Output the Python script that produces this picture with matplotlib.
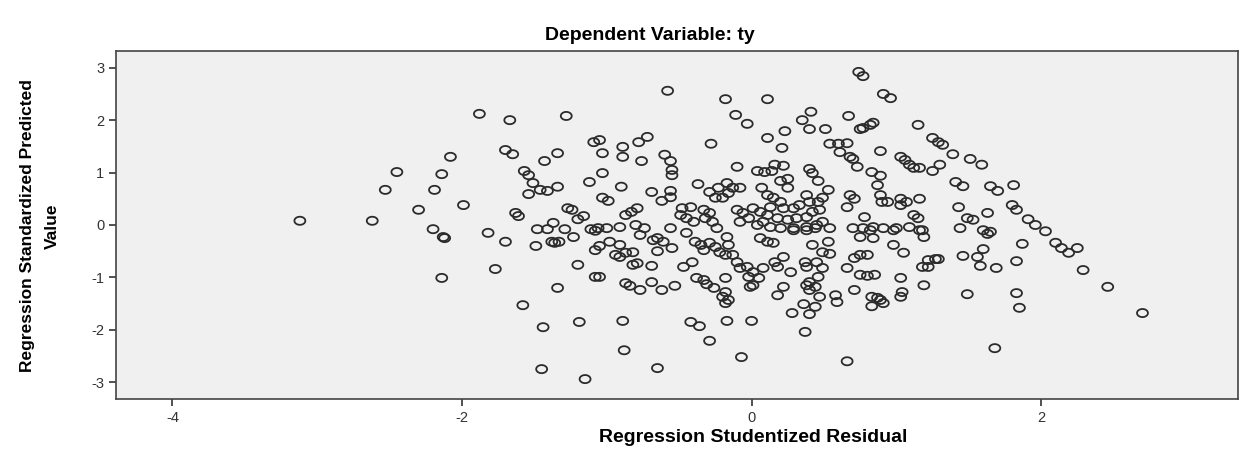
import numpy as np
import matplotlib
matplotlib.use("Agg")
import matplotlib.pyplot as plt
from matplotlib.path import Path

# residual / predicted pairs
left_pts = [(-3.12, 0.08), (-2.62, 0.08), (-2.53, 0.67), (-2.45, 1.01), (-2.30, 0.29),
            (-2.19, 0.67), (-2.14, 0.97), (-2.08, 1.30), (-2.20, -0.08), (-2.13, -0.23),
            (-2.12, -0.25), (-2.14, -1.01), (-1.99, 0.38)]

upper_left_pts = [(-1.88, 2.12), (-1.67, 2.00), (-1.28, 2.08), (-1.70, 1.43), (-1.65, 1.35),
                  (-1.43, 1.22), (-1.34, 1.37), (-1.57, 1.03), (-1.54, 0.95), (-1.51, 0.80),
                  (-1.46, 0.67), (-1.41, 0.65), (-1.34, 0.73), (-1.54, 0.59), (-1.12, 0.82),
                  (-1.05, 1.62), (-1.09, 1.58), (-1.03, 1.37), (-1.03, 0.99), (-1.03, 0.52),
                  (-1.63, 0.23), (-1.61, 0.17), (-1.27, 0.32), (-1.24, 0.29), (-1.16, 0.17),
                  (-1.20, 0.11), (-1.37, 0.04), (-1.48, -0.08), (-1.41, -0.08), (-1.29, -0.08),
                  (-1.82, -0.15), (-1.11, -0.08), (-1.08, -0.11), (-1.06, -0.06)]

lower_left_pts = [(-1.70, -0.32), (-1.49, -0.40), (-1.38, -0.32), (-1.36, -0.34), (-1.33, -0.32),
                  (-1.23, -0.23), (-1.08, -0.48), (-1.05, -0.40), (-1.77, -0.84), (-1.20, -0.76),
                  (-1.08, -0.99), (-1.05, -0.99), (-1.34, -1.20), (-1.58, -1.53), (-1.44, -1.95),
                  (-1.19, -1.85), (-1.45, -2.75), (-1.15, -2.94)]

upper_mid_pts = [(-0.58, 2.56), (-0.18, 2.40), (0.11, 2.40), (-0.11, 2.10), (-0.03, 1.93),
                 (-0.28, 1.55), (-0.72, 1.68), (-0.78, 1.58), (-0.89, 1.49), (-0.89, 1.30),
                 (-0.76, 1.22), (-0.60, 1.34), (-0.56, 1.22), (-0.55, 1.05), (-0.55, 0.95),
                 (-0.10, 1.11), (0.04, 1.03), (-0.90, 0.73), (-0.37, 0.78), (-0.69, 0.63),
                 (-0.56, 0.65), (-0.62, 0.46), (-0.56, 0.53), (-0.99, 0.46), (-0.29, 0.63),
                 (-0.23, 0.71), (-0.17, 0.80), (-0.13, 0.71), (-0.08, 0.71), (-0.25, 0.52),
                 (-0.20, 0.52), (-0.16, 0.61), (0.07, 0.71), (-0.79, 0.32), (-0.83, 0.25),
                 (-0.87, 0.19), (-0.48, 0.32), (-0.42, 0.34), (-0.49, 0.19), (-0.45, 0.13),
                 (-0.40, 0.06), (-0.33, 0.29), (-0.29, 0.23), (-0.32, 0.13), (-0.27, 0.06),
                 (-0.24, -0.06), (-0.10, 0.29), (-0.06, 0.23), (-0.02, 0.13), (0.01, 0.32),
                 (0.06, 0.25), (0.08, 0.06), (-0.08, 0.06), (0.04, 0.00), (-1.00, -0.06),
                 (-0.91, -0.04), (-0.80, 0.00), (-0.74, -0.06), (-0.56, -0.06)]

upper_right_pts = [(0.74, 2.92), (0.77, 2.84), (0.91, 2.50), (0.96, 2.42), (0.41, 2.16),
                   (0.35, 2.00), (0.67, 2.08), (0.77, 1.85), (0.82, 1.91), (0.84, 1.95),
                   (0.75, 1.83), (1.15, 1.91), (0.23, 1.79), (0.40, 1.83), (0.51, 1.83),
                   (0.11, 1.66), (0.21, 1.47), (0.54, 1.55), (0.60, 1.55), (0.66, 1.56),
                   (0.61, 1.39), (0.68, 1.30), (0.70, 1.26), (0.73, 1.11), (0.89, 1.41),
                   (1.03, 1.30), (1.06, 1.24), (1.09, 1.15), (1.12, 1.09), (0.16, 1.15),
                   (0.22, 1.13), (0.09, 1.01), (0.14, 1.03), (0.40, 1.07), (0.42, 0.99),
                   (0.46, 0.84), (0.83, 1.01), (0.89, 0.94), (0.87, 0.76), (1.16, 0.50),
                   (0.20, 0.84), (0.25, 0.88), (0.25, 0.71), (0.53, 0.67), (0.68, 0.57),
                   (0.71, 0.50), (0.66, 0.34), (0.89, 0.57), (0.94, 0.44), (0.90, 0.44),
                   (1.03, 0.50), (1.07, 0.44), (1.03, 0.38), (1.12, 0.19), (1.15, 0.13),
                   (0.78, 0.15), (0.38, 0.57), (0.40, 0.44), (0.46, 0.44), (0.49, 0.52),
                   (0.11, 0.57), (0.15, 0.52), (0.20, 0.44), (0.13, 0.34), (0.22, 0.32),
                   (0.29, 0.32), (0.33, 0.38), (0.11, 0.19), (0.18, 0.13), (0.25, 0.10),
                   (0.31, 0.13), (0.38, 0.15), (0.42, 0.25), (0.47, 0.29), (0.49, 0.06),
                   (0.45, 0.00), (0.38, -0.04), (0.29, -0.06), (0.20, -0.06), (0.13, -0.04),
                   (0.70, -0.06), (0.77, -0.06), (0.84, -0.04), (0.91, -0.06), (1.00, -0.06),
                   (1.09, -0.04)]

far_right_pts = [(1.25, 1.66), (1.29, 1.58), (1.32, 1.53), (1.39, 1.35), (1.51, 1.26),
                 (1.59, 1.15), (1.30, 1.15), (1.25, 1.03), (1.16, 1.09), (1.41, 0.82),
                 (1.46, 0.74), (1.65, 0.74), (1.70, 0.65), (1.81, 0.76), (1.43, 0.34),
                 (1.63, 0.23), (1.49, 0.13), (1.53, 0.10), (1.80, 0.38), (1.83, 0.29),
                 (1.91, 0.11), (1.96, 0.00), (2.03, -0.12), (1.18, -0.10), (1.44, -0.06),
                 (1.60, -0.10), (1.65, -0.13), (1.19, -0.23), (1.63, -0.17), (1.87, -0.36),
                 (2.10, -0.34), (2.14, -0.44), (2.19, -0.53), (2.25, -0.44), (2.29, -0.86),
                 (1.60, -0.46), (1.46, -0.59), (1.56, -0.61), (1.22, -0.67), (1.27, -0.65),
                 (1.29, -0.65), (1.22, -0.80), (1.58, -0.78), (1.69, -0.82), (1.83, -0.69),
                 (1.19, -1.15), (1.49, -1.32), (1.83, -1.30), (1.85, -1.58), (1.68, -2.35),
                 (2.46, -1.18), (2.70, -1.68)]

lower_mid_pts = [(-0.87, -1.11), (-0.84, -1.16), (-0.77, -1.24), (-0.69, -1.09), (-0.62, -1.24),
                 (-0.53, -1.16), (-0.69, -0.78), (-0.94, -0.57), (-0.91, -0.61), (-0.87, -0.53),
                 (-0.82, -0.52), (-0.82, -0.76), (-0.79, -0.73), (-0.47, -0.80), (-0.41, -0.71),
                 (-0.38, -1.01), (-0.33, -1.05), (-0.31, -1.13), (-0.26, -1.20), (-0.18, -1.28),
                 (-0.20, -1.37), (-0.16, -1.43), (-0.18, -1.49), (-0.18, -1.01), (-0.01, -1.18),
                 (0.05, -1.01), (-0.89, -1.83), (-0.42, -1.85), (-0.36, -1.93), (-0.17, -1.83),
                 (0.00, -1.83), (-0.29, -2.21), (-0.88, -2.39), (-0.07, -2.52), (-0.65, -2.73),
                 (-0.98, -0.32), (-0.91, -0.38), (-0.77, -0.19), (-0.68, -0.29), (-0.65, -0.25),
                 (-0.61, -0.32), (-0.55, -0.44), (-0.65, -0.50), (-0.45, -0.15), (-0.39, -0.32),
                 (-0.35, -0.38), (-0.33, -0.48), (-0.29, -0.34), (-0.25, -0.42), (-0.22, -0.52),
                 (-0.17, -0.23), (-0.16, -0.38), (-0.18, -0.57), (-0.13, -0.57), (-0.10, -0.71),
                 (-0.08, -0.82), (-0.03, -0.80), (0.01, -0.90), (-0.02, -0.99), (0.01, -1.15)]

lower_right_pts = [(0.42, -0.38), (0.53, -0.32), (0.49, -0.52), (0.54, -0.55), (0.22, -0.61),
                   (0.16, -0.71), (0.18, -0.80), (0.27, -0.90), (0.37, -0.71), (0.38, -0.80),
                   (0.45, -0.71), (0.49, -0.82), (0.46, -0.99), (0.40, -1.09), (0.38, -1.15),
                   (0.44, -1.18), (0.40, -1.24), (0.22, -1.18), (0.18, -1.34), (0.47, -1.37),
                   (0.58, -1.34), (0.59, -1.47), (0.36, -1.51), (0.44, -1.56), (0.28, -1.68),
                   (0.40, -1.70), (0.37, -2.04), (0.66, -2.60), (0.66, -0.82), (0.71, -0.63),
                   (0.75, -0.57), (0.80, -0.57), (0.75, -0.95), (0.80, -0.97), (0.85, -0.95),
                   (0.71, -1.24), (0.83, -1.37), (0.87, -1.39), (0.89, -1.43), (0.91, -1.49),
                   (0.83, -1.55), (1.03, -1.01), (1.04, -1.28), (1.03, -1.37), (0.98, -0.38),
                   (1.05, -0.53), (0.82, -0.10), (0.75, -0.23), (0.84, -0.25), (0.98, -0.10),
                   (1.16, -0.10), (1.18, -0.80), (0.06, -0.25), (0.11, -0.32), (0.15, -0.34),
                   (0.08, -0.82), (0.29, -0.10), (0.38, -0.10), (0.44, -0.06), (0.54, -0.06)]

all_pts = (left_pts + upper_left_pts + lower_left_pts + upper_mid_pts + upper_right_pts
           + far_right_pts + lower_mid_pts + lower_right_pts)
residual = [p[0] for p in all_pts]
predicted = [p[1] for p in all_pts]

# the original image is stretched sideways, so the circles look like ellipses
t = np.linspace(0, 2 * np.pi, 48)
ellipse = Path(np.column_stack([1.35 * np.cos(t), np.sin(t)]), closed=True)

plt.rcParams['font.family'] = ['Liberation Sans', 'DejaVu Sans']
plt.rcParams['axes.unicode_minus'] = False

fig = plt.figure(figsize=(12.46, 4.59), dpi=100)
ax = fig.add_axes([0.0931, 0.1307, 0.9005, 0.7583])
ax.set_facecolor('#f0f0f0')

ax.scatter(residual, predicted, marker=ellipse, s=62, facecolors='none',
           edgecolors='#2b2b2b', linewidths=1.3)

ax.set_xlim(-4.39, 3.36)
ax.set_ylim(-3.32, 3.32)
ax.set_xticks([-4, -2, 0, 2])
ax.set_yticks([-3, -2, -1, 0, 1, 2, 3])
ax.tick_params(direction='out', length=5, width=1.2, colors='#333333', labelsize=10.5)
for s in ax.spines.values():
    s.set_color('#444444')
    s.set_linewidth(1.2)

fig.text(650 / 1246, 1 - 35 / 459, 'Dependent Variable: ty', fontsize=14,
         fontweight='bold', ha='center', va='center')
fig.text(753 / 1246, 1 - 437 / 459, 'Regression Studentized Residual', fontsize=14,
         fontweight='bold', ha='center', va='center')
fig.text(40 / 1246, 1 - 226 / 459, 'Regression Standardized Predicted\nValue',
         fontsize=12.5, fontweight='bold', rotation=90, ha='center', va='center',
         multialignment='center', linespacing=1.75)

fig.savefig('out.png', dpi=100)
